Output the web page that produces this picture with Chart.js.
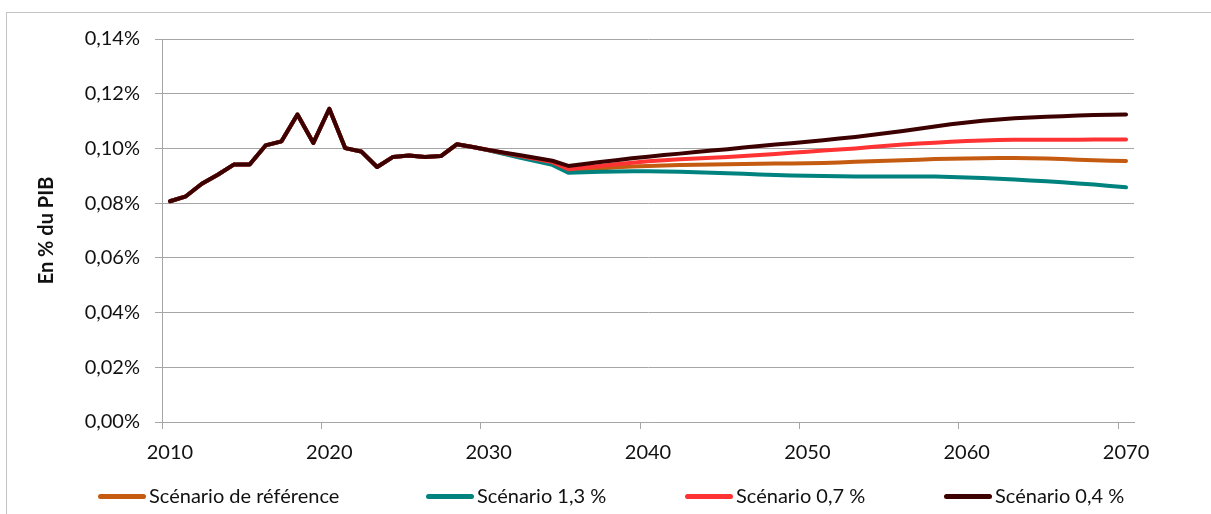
<!DOCTYPE html>
<html>
<head>
<meta charset="utf-8">
<script src="https://cdn.jsdelivr.net/npm/chart.js@4.4.1/dist/chart.umd.min.js"></script>
<style>
html,body{margin:0;padding:0;background:#fff;}
#wrap{position:relative;width:1211px;height:514px;overflow:hidden;font-family:Lato,"Open Sans",sans-serif;}
#frame{position:absolute;left:6px;top:12px;width:1300px;height:700px;border:1px solid #c4c4c4;box-sizing:border-box;}
#c{position:absolute;left:0;top:0;}
#legend{position:absolute;left:0;top:482px;width:1211px;height:26px;}
.item{position:absolute;top:0;height:26px;display:flex;align-items:center;font-size:20px;color:#111;white-space:nowrap;}
.sw{width:48px;height:5px;border-radius:3px;margin-right:3px;margin-top:3px;}
</style>
</head>
<body>
<div id="wrap">
  <div id="frame"></div>
  <canvas id="c" width="1211" height="514"></canvas>
  <div id="legend"></div>
</div>
<script>
// Catégories (années)
const annees = ["2010","2011","2012","2013","2014","2015","2016","2017","2018","2019",
  "2020","2021","2022","2023","2024","2025","2026","2027","2028","2029",
  "2030","2031","2032","2033","2034","2035","2036","2037","2038","2039",
  "2040","2041","2042","2043","2044","2045","2046","2047","2048","2049",
  "2050","2051","2052","2053","2054","2055","2056","2057","2058","2059",
  "2060","2061","2062","2063","2064","2065","2066","2067","2068","2069","2070"];

// Historique commun 2010-2029 (en % du PIB)
const historique = [0.0807,0.0825,0.0871,0.0904,0.0941,0.0941,0.1011,0.1026,0.1124,0.1020,
  0.1145,0.1001,0.0989,0.0932,0.0969,0.0974,0.0969,0.0972,0.1015,0.1005];

// Projections 2030-2070
const projReference = [0.0993,0.0981,0.0970,0.0958,0.0946,0.0917,0.0922,0.0927,0.0931,0.0934,
  0.0936,0.0938,0.0939,0.0940,0.0941,0.0942,0.0943,0.0944,0.0945,0.0945,
  0.0946,0.0947,0.0949,0.0951,0.0953,0.0955,0.0957,0.0959,0.0961,0.0962,
  0.0963,0.0964,0.0965,0.0965,0.0964,0.0963,0.0961,0.0959,0.0957,0.0955,0.0954];
const proj13 = [0.0993,0.0979,0.0966,0.0953,0.0940,0.0911,0.0913,0.0915,0.0916,0.0917,
  0.0917,0.0916,0.0915,0.0913,0.0911,0.0909,0.0907,0.0905,0.0903,0.0901,
  0.0900,0.0899,0.0898,0.0897,0.0897,0.0897,0.0897,0.0897,0.0897,0.0896,
  0.0894,0.0892,0.0889,0.0886,0.0883,0.0880,0.0876,0.0872,0.0868,0.0863,0.0858];
const proj07 = [0.0994,0.0983,0.0972,0.0961,0.0950,0.0924,0.0930,0.0936,0.0942,0.0948,
  0.0953,0.0957,0.0960,0.0963,0.0966,0.0969,0.0972,0.0976,0.0980,0.0984,
  0.0988,0.0992,0.0996,0.1000,0.1005,0.1010,0.1014,0.1018,0.1021,0.1024,
  0.1027,0.1029,0.1031,0.1032,0.1032,0.1032,0.1032,0.1032,0.1033,0.1033,0.1033];
const proj04 = [0.0994,0.0984,0.0975,0.0965,0.0955,0.0936,0.0943,0.0950,0.0957,0.0964,
  0.0970,0.0976,0.0981,0.0987,0.0992,0.0997,0.1003,0.1009,0.1014,0.1019,
  0.1024,0.1030,0.1036,0.1042,0.1049,0.1056,0.1064,0.1072,0.1080,0.1088,
  0.1095,0.1101,0.1106,0.1110,0.1113,0.1116,0.1118,0.1120,0.1122,0.1123,0.1124];

const seriesNames = ["Scénario de référence","Scénario 1,3 %","Scénario 0,7 %","Scénario 0,4 %"];
const seriesValues = [historique.concat(projReference), historique.concat(proj13), historique.concat(proj07), historique.concat(proj04)];
const seriesColors = ["#c55a11","#00827e","#ff3333","#3d0000"];
const drawOrder = [4,3,2,1];
const legendLeft = [98,426,685,944];

const FONT = "Lato, 'Open Sans', sans-serif";
const GRID = "#a6a6a6";

const datasets = seriesNames.map((n,i)=>({
  label:n, data:seriesValues[i], borderColor:seriesColors[i], backgroundColor:seriesColors[i],
  borderWidth:4, pointRadius:0, pointHoverRadius:0, tension:0, fill:false,
  borderCapStyle:'round', borderJoinStyle:'round', order:drawOrder[i]
}));

new Chart(document.getElementById('c'), {
  type:'line',
  data:{labels:annees, datasets:datasets},
  options:{
    responsive:false, animation:false, events:[],
    layout:{padding:{top:39,right:77,left:0,bottom:0}},
    plugins:{legend:{display:false}, tooltip:{enabled:false}},
    scales:{
      x:{
        type:'category', offset:true,
        grid:{offset:true, drawOnChartArea:false, drawTicks:true, tickLength:7,
              color:(ctx)=> (ctx.index!==undefined && ctx.index%10===0) ? GRID : 'rgba(0,0,0,0)'},
        border:{display:true, color:GRID},
        ticks:{autoSkip:false, maxRotation:0, minRotation:0, padding:12, color:'#111',
               font:{family:FONT, size:20},
               callback:function(v,i){ return i%10===0 ? this.getLabelForValue(v) : ''; }},
        afterFit:(s)=>{ s.height = 92; }
      },
      y:{
        min:0, max:0.14,
        grid:{color:GRID, tickLength:7, drawTicks:true},
        border:{display:true, color:GRID},
        ticks:{stepSize:0.02, padding:15, color:'#111', font:{family:FONT, size:20},
               callback:(v)=> v.toFixed(2).replace('.',',') + '%'},
        title:{display:true, text:'En % du PIB', color:'#111',
               font:{family:FONT, size:20, weight:'bold'}, padding:{top:35,bottom:0}},
        afterFit:(s)=>{ s.width = 162; }
      }
    }
  }
});

// Légende
const lg = document.getElementById('legend');
seriesNames.forEach((n,i)=>{
  const it = document.createElement('div');
  it.className='item'; it.style.left = legendLeft[i]+'px';
  const sw = document.createElement('span'); sw.className='sw'; sw.style.background = seriesColors[i];
  const tx = document.createElement('span'); tx.textContent = n;
  it.appendChild(sw); it.appendChild(tx); lg.appendChild(it);
});
</script>
</body>
</html>
